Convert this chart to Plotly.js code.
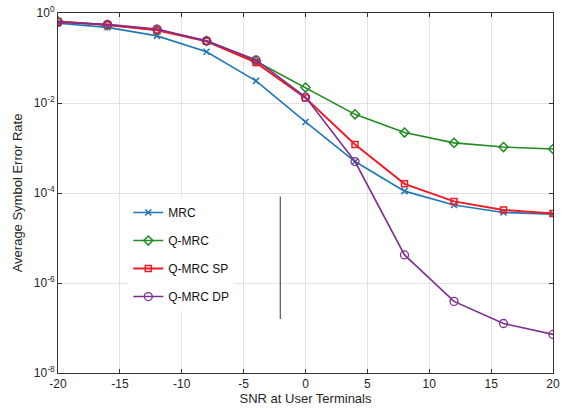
<!DOCTYPE html>
<html>
<head>
<meta charset="utf-8">
<script src="https://cdn.plot.ly/plotly-3.0.1.min.js"></script>
<style>html,body{margin:0;padding:0;background:#fff}#chart{width:566px;height:412px}</style>
</head>
<body>
<div id="chart"></div>
<script>
var snr = [-20, -16, -12, -8, -4, 0, 4, 8, 12, 16, 20];
var serMRC    = [0.59, 0.48, 0.31, 0.138, 0.031, 0.0038, 5.0e-4, 1.1e-4, 5.4e-5, 3.7e-5, 3.4e-5];
var serQMRC   = [0.65, 0.54, 0.42, 0.24, 0.085, 0.022, 0.0056, 0.0022, 0.0013, 0.00105, 0.00095];
var serQMRCSP = [0.65, 0.54, 0.41, 0.235, 0.079, 0.0129, 0.0012, 1.6e-4, 6.5e-5, 4.2e-5, 3.5e-5];
var serQMRCDP = [0.62, 0.56, 0.44, 0.24, 0.091, 0.0135, 5.0e-4, 4.2e-6, 3.9e-7, 1.26e-7, 7.2e-8];
var yTickVals = [1, 1e-2, 1e-4, 1e-6, 1e-8];
var yTickText = ['10<sup>0</sup>', '10<sup>-2</sup>', '10<sup>-4</sup>', '10<sup>-6</sup>', '10<sup>-8</sup>'];
var xTickVals = [-20, -15, -10, -5, 0, 5, 10, 15, 20];
var xTickText = ['-20', '-15', '-10', '-5', '0', '5', '10', '15', '20'];

var font = 'Liberation Sans, Arial, sans-serif';
var traces = [
  {x: snr, y: serMRC, name: 'MRC', legendgroup: 'a', mode: 'lines+markers',
   line: {color: '#1f77b4', width: 1.6},
   marker: {symbol: 'x-thin-open', size: 6, line: {color: '#1f77b4', width: 1.5}, color: '#1f77b4'}},
  {x: snr, y: serQMRC, name: 'Q-MRC', legendgroup: 'b', mode: 'lines+markers',
   line: {color: '#228B22', width: 1.6},
   marker: {symbol: 'diamond-open', size: 7, color: '#228B22', line: {width: 1.5}}},
  {x: snr, y: serQMRCSP, name: 'Q-MRC SP', legendgroup: 'c', mode: 'lines+markers',
   line: {color: '#ee1c25', width: 1.9},
   marker: {symbol: 'square-open', size: 6, color: '#ee1c25', line: {width: 1.5}}},
  {x: snr, y: serQMRCDP, name: 'Q-MRC DP', legendgroup: 'd', mode: 'lines+markers',
   line: {color: '#7E2F8E', width: 1.6},
   marker: {symbol: 'circle-open', size: 8, color: '#7E2F8E', line: {width: 1.3}}}
];

var layout = {
  width: 566, height: 412,
  margin: {l: 58, r: 13, t: 13, b: 39},
  paper_bgcolor: '#fff', plot_bgcolor: '#fff',
  font: {family: font, size: 12, color: '#262626'},
  showlegend: true,
  legend: {x: 0.142, y: 0.486, xanchor: 'left', yanchor: 'top',
           bgcolor: '#fff', borderwidth: 0, tracegroupgap: 9,
           font: {family: font, size: 12, color: '#111'}},
  xaxis: {range: [-20, 20], tickvals: xTickVals, ticktext: xTickText, showgrid: true, gridcolor: '#e2e2e2',
          zeroline: false, showline: true, linecolor: '#333', linewidth: 1, mirror: 'ticks',
          ticks: 'inside', ticklen: 4, tickcolor: '#333',
          tickfont: {size: 12, color: '#262626'},
          title: {text: 'SNR at User Terminals', standoff: 0, font: {size: 13, color: '#262626'}}},
  yaxis: {type: 'log', range: [-8, 0], tickvals: yTickVals, ticktext: yTickText,
          showgrid: true, gridcolor: '#e2e2e2', zeroline: false,
          showline: true, linecolor: '#333', linewidth: 1, mirror: 'ticks',
          ticks: 'inside', ticklen: 4, tickcolor: '#333',
          tickfont: {size: 12, color: '#262626'},
          title: {text: 'Average Symbol Error Rate', standoff: 8, font: {size: 13, color: '#262626'}}},
  shapes: [
    {type: 'line', xref: 'paper', yref: 'paper', x0: 0.449, x1: 0.449, y0: 0.15, y1: 0.49,
     line: {color: '#333', width: 1}}
  ]
};

Plotly.newPlot('chart', traces, layout, {displayModeBar: false, staticPlot: true});
</script>
</body>
</html>
